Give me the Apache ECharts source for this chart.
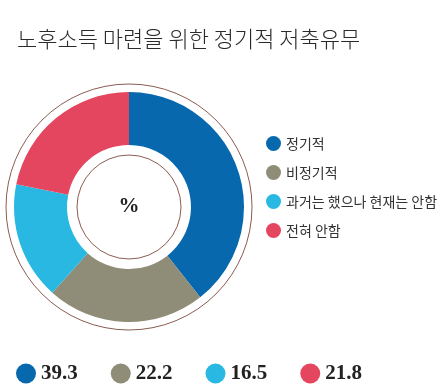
<!DOCTYPE html>
<html><head><meta charset="utf-8">
<script src="https://cdn.jsdelivr.net/npm/echarts@6/dist/echarts.min.js"></script>
<style>html,body{margin:0;padding:0;background:#fff}#c{width:444px;height:392px}</style>
</head><body><div id="c"></div>
<script>
const title = '노후소득 마련을 위한 정기적 저축유무';
const categories = ['정기적', '비정기적', '과거는 했으나 현재는 안함', '전혀 안함'];
const values = [39.3, 22.2, 16.5, 21.8];
const colors = ['#0868ad', '#8f8c78', '#29b8e2', '#e5465f'];

const chart = echarts.init(document.getElementById('c'), null, {renderer: 'canvas'});
const cx = 129, cy = 207;
const valMap = {};
categories.forEach((c, i) => valMap[c] = values[i]);
chart.setOption({
  animation: false,
  color: colors,
  title: {
    text: title, left: 12, top: 23,
    textStyle: {fontFamily: 'Noto Sans CJK KR', fontWeight: 300, fontSize: 22, color: '#2a2a2a'}
  },
  legend: [{
    orient: 'vertical', left: 261, top: 131,
    data: categories, icon: 'circle', itemWidth: 15, itemHeight: 15, itemGap: 14,
    textStyle: {fontFamily: 'Noto Sans CJK KR', fontSize: 14, color: '#333'},
    selectedMode: false
  }, {
    orient: 'horizontal', left: 11, top: 358,
    data: categories, icon: 'circle', itemWidth: 20, itemHeight: 20, itemGap: 33,
    formatter: n => valMap[n].toFixed(1),
    textStyle: {fontFamily: 'Liberation Serif', fontWeight: 'bold', fontSize: 21, color: '#222', padding: [2,0,0,0]},
    selectedMode: false
  }],
  graphic: [
    {type: 'circle', shape: {cx: cx, cy: cy, r: 123}, style: {fill: 'none', stroke: '#8a5b52', lineWidth: 1}, z: 0},
    {type: 'circle', shape: {cx: cx, cy: cy, r: 52}, style: {fill: 'none', stroke: '#8a5b52', lineWidth: 1}, z: 10},
    {type: 'text', x: cx, y: cy, style: {text: '%', x: 0, y: 0, align: 'center', verticalAlign: 'middle', font: 'bold 21px "Liberation Serif"', fill: '#222'}, z: 10}
  ],
  series: [{
    type: 'pie', center: [cx, cy], radius: [62, 115], startAngle: 90, clockwise: true,
    label: {show: false}, labelLine: {show: false}, silent: true,
    itemStyle: {borderWidth: 0},
    data: categories.map((c, i) => ({name: c, value: values[i]}))
  }]
});
</script></body></html>
